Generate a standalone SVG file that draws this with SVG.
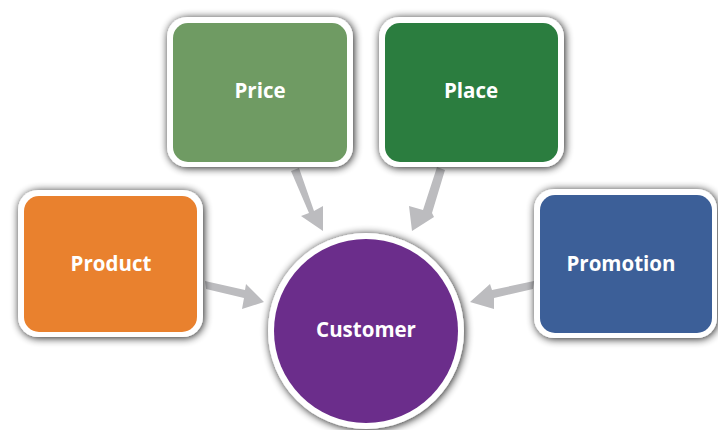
<svg xmlns="http://www.w3.org/2000/svg" width="718" height="430" viewBox="0 0 718 430">
<defs>
<filter id="sh" x="-20%" y="-20%" width="140%" height="140%">
<feGaussianBlur in="SourceAlpha" stdDeviation="4.5"/>
<feOffset dx="1" dy="1" result="b"/>
<feComponentTransfer><feFuncA type="linear" slope="0.9"/></feComponentTransfer>
<feMerge><feMergeNode/><feMergeNode in="SourceGraphic"/></feMerge>
</filter>
</defs>
<style>
.outer{fill:#ffffff;filter:url(#sh)}
.lbl{font-family:"Open Sans","Liberation Sans",sans-serif;font-weight:bold;font-size:20.5px;fill:#ffffff;text-anchor:middle}
.arr{fill:#bcbcbf}
</style>
<rect width="718" height="430" fill="#ffffff"/>
<g id="connectors">
<polygon class="arr" points="291,171 299,168 314,211 323,206 323,231 301,216 309,213"/>
<polygon class="arr" points="437,167 445,170 432,213 434,217 412,231 409,206 423,210"/>
<polygon class="arr" points="205,281 206,289 244,298 242,309 264,302 246,284 245,290"/>
<polygon class="arr" points="534,281 533,289 494,298 494,309 470,302 490,284 492,290"/>
</g>
<g id="price">
<rect class="outer" x="167" y="17" width="186" height="150" rx="20"/>
<rect x="173" y="23" width="174" height="139" rx="15" fill="#6f9b63"/>
<text class="lbl" x="260" y="98">Price</text>
</g>
<g id="place">
<rect class="outer" x="379" y="17" width="185" height="150" rx="20"/>
<rect x="385" y="23" width="173" height="139" rx="15" fill="#2b7d3f"/>
<text class="lbl" x="471" y="98">Place</text>
</g>
<g id="product">
<rect class="outer" x="18" y="190" width="185" height="147" rx="20"/>
<rect x="24" y="196" width="173" height="136" rx="15" fill="#e9812e"/>
<text class="lbl" x="111" y="271">Product</text>
</g>
<g id="promotion">
<rect class="outer" x="534" y="189" width="183" height="149" rx="20"/>
<rect x="540" y="195" width="172" height="138" rx="15" fill="#3c5f98"/>
<text class="lbl" x="621" y="271">Promotion</text>
</g>
<g id="customer">
<circle class="outer" cx="366" cy="331" r="98"/>
<circle cx="366" cy="331" r="92" fill="#6b2d8b"/>
<text class="lbl" x="366" y="337">Customer</text>
</g>
</svg>
